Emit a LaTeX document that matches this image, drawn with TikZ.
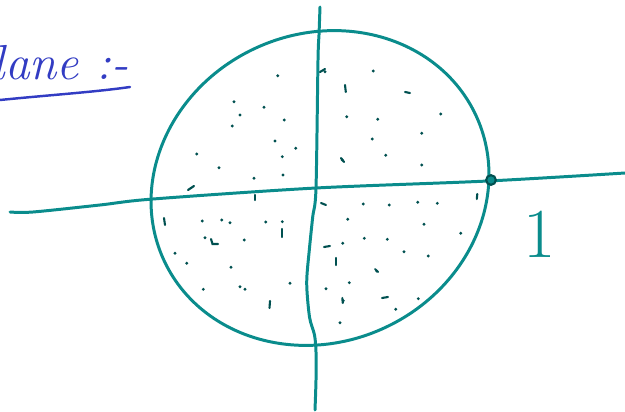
\documentclass[tikz,border=0pt]{standalone}
\usepackage{tikz}
\definecolor{teal1}{RGB}{10,140,140}
\definecolor{tealdot}{RGB}{0,80,80}
\definecolor{pen}{RGB}{50,60,195}
\tikzset{
  axisline/.style={draw=teal1,line width=1.7pt,line cap=round,line join=round},
  dotmark/.style={fill=tealdot},
  dashmark/.style={draw=tealdot,line width=1.2pt,line cap=round}
}
\begin{document}
\begin{tikzpicture}[x={(0.02cm,0)},y={(0,-0.02cm)}]
\useasboundingbox (0,0) rectangle (625,412);
\clip (0,0) rectangle (625,412);
% heading
\node[anchor=base west,text=pen,inner sep=0pt,font=\fontsize{28}{28}\selectfont\itshape] (title) at (-40,80) {Plane :-};
\draw[draw=pen,line width=1.4pt,line cap=round] (0,100) .. controls (50,95) and (95,92) .. (130,87);
% disc boundary
\coordinate (c) at (320,188);
\draw[axisline,rotate around={25:(c)}] (c) ellipse [x radius=172, y radius=154];
% axes
\draw[axisline] plot[smooth,tension=0.5] coordinates {(10,212) (33,212) (100,205) (153,199) (316,188) (488,181) (625,173)};
\draw[axisline] plot[smooth,tension=0.5] coordinates {(320,7) (319,35) (318,60) (316,188) (312.7,217) (309.3,250) (306.7,283) (309.5,317) (314.5,335) (316,352) (316,380) (315,410)};
% point 1
\node[circle,draw=tealdot,line width=1.2pt,fill=teal1,minimum size=5.5pt,inner sep=0pt] (one) at (491,180) {};
\node[text=teal1,font=\fontsize{40}{40}\selectfont] (lab) at (540,234) {1};
% dots
\foreach \p in {(277.7,75.7),(234,101.7),(264,107.3),(240,115),(284.3,120),(232.3,126),(275,141),(295.7,148.3),(282.3,156.7),(196.7,154),(219,167.7),(254,178.3),(283,175),
(325,71.7),(373.3,71),(346.7,116.7),(377.7,119.3),(440.7,114),(421.7,133.3),(372.3,139),(342.3,160),(385.7,155.3),(421.7,165),
(202.3,221),(221.7,220),(230,222.7),(265.7,222),(282.3,221.7),(205,237.7),(244.3,240),(175,253.3),(186.7,263.3),(231,267.3),(203.3,289.3),(240,286.7),(245,289.3),(290,283.3),
(363.3,204),(389.3,205),(417.7,202.3),(437.3,203.3),(347.7,219.3),(424,224.3),(460.7,233.3),(342.7,243.3),(364.3,238.3),(387.3,239.3),(404,251.7),(428.3,256),(376.7,271),(349.3,282.7),(326,288.7),(343.3,300.7),(395.7,309.3),(418.3,298.7),(340,322.7)}
  \fill[dotmark] \p circle (1.6);
% short strokes
\draw[dashmark] (345,85) -- (345.8,92);
\draw[dashmark] (405,92) -- (410,93);
\draw[dashmark] (188,190) -- (194,186);
\draw[dashmark] (255.3,195) -- (255.3,200);
\draw[dashmark] (321,203) -- (326,205);
\draw[dashmark] (164,218) -- (165,225);
\draw[dashmark] (281.7,229) -- (281.7,237);
\draw[dashmark] (211,239) -- (212.5,244) -- (218,244);
\draw[dashmark] (324,247) -- (330,246);
\draw[dashmark] (336,258) -- (336,265);
\draw[dashmark] (270,301) -- (269.5,308);
\draw[dashmark] (382,298) -- (388,297);
\draw[dashmark] (477.3,194) -- (476.8,199);
\draw[dashmark] (320,72) -- (325,69);
\draw[dashmark] (341,158) -- (344,162);
\draw[dashmark] (375,269) -- (378,272);
\draw[dashmark] (342.3,298) -- (342.8,303);
\end{tikzpicture}
\end{document}
